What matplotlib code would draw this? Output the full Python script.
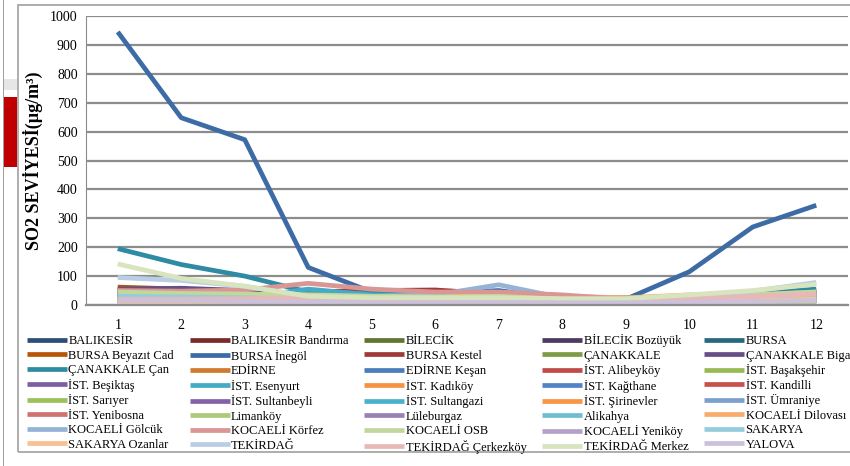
import matplotlib
matplotlib.use("Agg")
import matplotlib.pyplot as plt
from matplotlib.patches import Rectangle

plt.rcParams['font.family'] = ['Liberation Serif', 'DejaVu Serif']

months = [1, 2, 3, 4, 5, 6, 7, 8, 9, 10, 11, 12]

stations = [
    "BALIKESİR", "BALIKESİR Bandırma", "BİLECİK", "BİLECİK Bozüyük", "BURSA",
    "BURSA Beyazıt Cad", "BURSA İnegöl", "BURSA Kestel", "ÇANAKKALE", "ÇANAKKALE Biga",
    "ÇANAKKALE Çan", "EDİRNE", "EDİRNE Keşan", "İST. Alibeyköy", "İST. Başakşehir",
    "İST. Beşiktaş", "İST. Esenyurt", "İST. Kadıköy", "İST. Kağthane", "İST. Kandilli",
    "İST. Sarıyer", "İST. Sultanbeyli", "İST. Sultangazi", "İST. Şirinevler", "İST. Ümraniye",
    "İST. Yenibosna", "Limanköy", "Lüleburgaz", "Alikahya", "KOCAELİ Dilovası",
    "KOCAELİ Gölcük", "KOCAELİ Körfez", "KOCAELİ OSB", "KOCAELİ Yeniköy", "SAKARYA",
    "SAKARYA Ozanlar", "TEKİRDAĞ", "TEKİRDAĞ Çerkezköy", "TEKİRDAĞ Merkez", "YALOVA",
]

so2 = [
    [30, 28, 25, 15, 12, 10, 10, 8, 10, 15, 20, 28],
    [20, 18, 15, 12, 10, 10, 12, 10, 10, 14, 18, 22],
    [15, 14, 12, 10, 8, 8, 8, 8, 8, 10, 12, 15],
    [25, 22, 18, 12, 10, 8, 8, 8, 10, 12, 18, 24],
    [35, 30, 25, 15, 12, 12, 12, 10, 12, 18, 25, 40],
    [62, 55, 45, 25, 20, 18, 18, 15, 18, 25, 35, 50],
    [945, 648, 572, 130, 45, 40, 50, 20, 20, 115, 270, 345],
    [45, 42, 40, 45, 50, 52, 38, 25, 20, 22, 30, 40],
    [12, 10, 10, 8, 8, 6, 6, 6, 8, 10, 12, 15],
    [55, 58, 50, 30, 20, 15, 15, 12, 15, 20, 30, 45],
    [195, 140, 100, 45, 40, 35, 30, 25, 25, 30, 40, 55],
    [30, 25, 20, 15, 12, 10, 10, 10, 12, 15, 22, 28],
    [40, 35, 30, 20, 15, 12, 12, 10, 12, 15, 25, 35],
    [35, 30, 25, 20, 18, 15, 15, 12, 15, 20, 25, 32],
    [25, 22, 20, 15, 12, 10, 10, 10, 12, 15, 20, 25],
    [50, 45, 40, 25, 18, 15, 15, 12, 12, 18, 25, 35],
    [30, 28, 25, 55, 35, 30, 25, 18, 15, 20, 28, 35],
    [20, 18, 15, 10, 8, 8, 8, 8, 10, 12, 15, 20],
    [28, 25, 22, 15, 12, 10, 10, 10, 12, 15, 20, 25],
    [15, 12, 10, 8, 8, 6, 6, 6, 8, 10, 12, 15],
    [18, 15, 12, 10, 8, 8, 8, 8, 10, 12, 15, 18],
    [32, 30, 28, 20, 15, 12, 12, 10, 12, 18, 22, 30],
    [40, 38, 35, 20, 15, 12, 12, 10, 12, 18, 25, 35],
    [22, 20, 18, 12, 10, 10, 10, 10, 10, 14, 18, 22],
    [26, 24, 20, 15, 12, 10, 10, 10, 10, 14, 18, 24],
    [45, 40, 35, 30, 28, 25, 22, 18, 15, 20, 25, 30],
    [10, 10, 8, 8, 8, 6, 6, 6, 8, 8, 10, 12],
    [38, 35, 30, 20, 15, 12, 12, 10, 12, 18, 25, 35],
    [30, 30, 28, 20, 18, 15, 15, 12, 12, 15, 20, 25],
    [20, 25, 22, 28, 25, 30, 35, 30, 25, 35, 30, 30],
    [28, 26, 25, 35, 30, 35, 70, 25, 15, 18, 25, 30],
    [50, 48, 52, 75, 55, 45, 45, 35, 20, 25, 35, 45],
    [45, 40, 38, 35, 30, 28, 30, 20, 18, 25, 35, 45],
    [25, 22, 20, 18, 15, 15, 18, 15, 12, 15, 20, 25],
    [30, 28, 25, 18, 15, 12, 12, 10, 12, 15, 20, 25],
    [5, 6, 8, 5, 4, 4, 5, 5, 5, 10, 15, 20],
    [95, 85, 65, 30, 20, 15, 15, 15, 15, 30, 48, 78],
    [20, 20, 22, 25, 22, 20, 20, 18, 15, 20, 30, 38],
    [142, 92, 65, 30, 25, 25, 25, 22, 22, 35, 50, 72],
    [15, 15, 12, 10, 8, 8, 8, 8, 8, 10, 12, 15],
]

# excel style shades: 6 accents, darker -> lighter
colors = [
    "#2C4D75", "#772C2A", "#5F7530", "#4D3B62", "#276A7C", "#B65708",
    "#3D6BA6", "#9E3A38", "#7E9C45", "#664E87", "#2F8BA3", "#D07A2E",
    "#4A7EBB", "#BE4B48", "#98B954", "#7D60A0", "#46AAC5", "#F69240",
    "#5183C6", "#C9504C", "#9DC05A", "#8562A8", "#4BB0CC", "#F99546",
    "#7BA0CD", "#CD7371", "#AFC97A", "#9983B5", "#6FBDD1", "#F9AB6B",
    "#95B3D7", "#D99694", "#C3D69B", "#B3A2C7", "#93CDDD", "#FAC090",
    "#B9CDE5", "#E6B9B8", "#D7E4BD", "#CCC1DA",
]

fig = plt.figure(figsize=(8.5, 4.66), dpi=100)
ax = fig.add_axes([86/850, 1-305/466, 762/850, 289/466])

handles = []
for i in range(len(stations)):
    h, = ax.plot(months, so2[i], color=colors[i], lw=3.4, solid_capstyle='butt')
    handles.append(h)

ax.set_xlim(0.5, 12.5)
ax.set_ylim(0, 1000)
ax.set_yticks(range(0, 1001, 100))
ax.set_xticks(months)
ax.grid(axis='y', color='#8C8C8C', lw=1.6)
ax.set_axisbelow(True)
for s in ['top', 'right']:
    ax.spines[s].set_visible(False)
ax.spines['left'].set_color('#8C8C8C')
ax.spines['bottom'].set_color('#8C8C8C')
ax.spines['bottom'].set_linewidth(1.6)
ax.tick_params(axis='both', length=0, labelsize=10)
ax.tick_params(axis='x', pad=10)
ax.tick_params(axis='y', pad=6)
ax.set_ylabel("SO2 SEVİYESİ(µg/m³)", fontsize=13, fontweight='bold', labelpad=5)

# legend is row-major in the original, matplotlib fills column-major
ncol = 5
nrow = 8
order = []
for c in range(ncol):
    for r in range(nrow):
        k = r*ncol + c
        if k < len(handles):
            order.append(k)
fig.legend([handles[k] for k in order], [stations[k] for k in order],
           ncol=ncol, loc='upper left', mode='expand',
           bbox_to_anchor=(27/850, 0, 823/850, 1-334/466),
           frameon=False, fontsize=9, handlelength=3.2, handletextpad=0.1,
           labelspacing=0.2, borderaxespad=0, borderpad=0, columnspacing=0.5)

# chart frame and bits of the surrounding window
fig.patches.append(Rectangle((18/850, 1-452/466), 840/850, 447/466, transform=fig.transFigure,
                             fill=False, ec='#A0A0A0', lw=1.2))
fig.patches.append(Rectangle((3/850, 0), 0.001, 1, transform=fig.transFigure,
                             fill=True, fc='#A0A0A0', ec='none'))
fig.patches.append(Rectangle((4/850, 1-90/466), 13/850, 11/466, transform=fig.transFigure,
                             fill=True, fc='#E6E6E6', ec='none'))
fig.patches.append(Rectangle((4/850, 1-167/466), 13/850, 70/466, transform=fig.transFigure,
                             fill=True, fc='#C00000', ec='none'))

fig.savefig("out.png", dpi=100)
